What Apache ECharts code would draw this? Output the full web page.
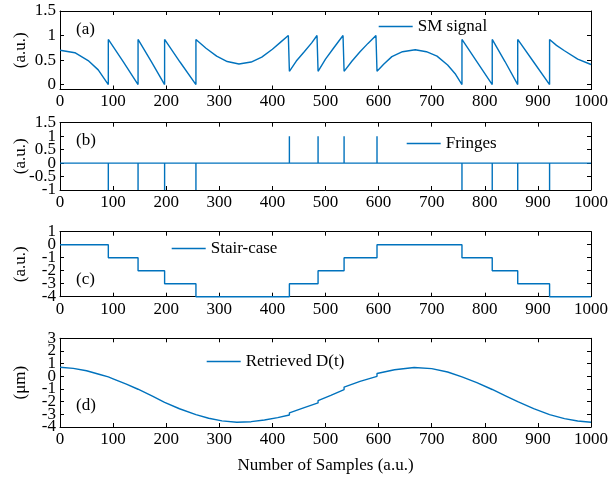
<!DOCTYPE html>
<html>
<head>
<meta charset="utf-8">
<script src="https://cdn.jsdelivr.net/npm/echarts@6/dist/echarts.min.js"></script>
<style>
  html, body { margin: 0; padding: 0; background: #fff; }
  #chart { width: 611px; height: 483px; }
</style>
</head>
<body>
<div id="chart"></div>
<script>
// (a) self-mixing signal
var smX = [0, 28, 53, 72, 91, 91, 119, 147, 147, 172, 197, 197, 226, 256, 256, 275, 295, 315, 337, 360, 380, 400, 415, 430, 432,
           445, 460, 474, 484, 486, 500, 515, 533, 535, 550, 565, 580, 595, 597, 610, 625, 645, 669, 690, 710, 730, 745, 757, 757,
           785, 814, 814, 838, 862, 862, 892, 922, 922, 935, 950, 975, 1000];
var smY = [0.70, 0.65, 0.49, 0.30, 0.00, 0.92, 0.47, 0.00, 0.92, 0.47, 0.00, 0.92, 0.46, 0.00, 0.92, 0.74, 0.58, 0.47, 0.42, 0.46, 0.56, 0.72, 0.86, 1.00, 0.27,
           0.48, 0.67, 0.85, 1.00, 0.27, 0.52, 0.74, 1.00, 0.27, 0.48, 0.67, 0.84, 1.00, 0.27, 0.42, 0.57, 0.67, 0.71, 0.67, 0.58, 0.40, 0.21, 0.00, 0.92,
           0.47, 0.00, 0.92, 0.47, 0.00, 0.92, 0.46, 0.00, 0.92, 0.80, 0.69, 0.52, 0.41];

// (b) fringe positions and their sign
var fringeX = [91, 147, 197, 256, 432, 486, 535, 597, 757, 814, 862, 922];
var fringeSign = [-1, -1, -1, -1, 1, 1, 1, 1, -1, -1, -1, -1];

// (c) stair-case
var stairX = [0, 91, 147, 197, 256, 432, 486, 535, 597, 757, 814, 862, 922, 1000];
var stairY = [0, -1, -2, -3, -4, -3, -2, -1, 0, -1, -2, -3, -4, -4];

// (d) retrieved displacement D(t), um
var dispX = [0, 25, 50, 75, 91, 100, 125, 147, 175, 197, 225, 256, 280, 305, 333, 360, 385, 410, 432, 432, 460, 486, 486, 510,
             535, 535, 565, 597, 597, 630, 667, 700, 730, 757, 785, 814, 840, 862, 892, 922, 950, 975, 1000];
var dispY = [0.72, 0.63, 0.44, 0.14, -0.05, -0.2, -0.62, -1.02, -1.58, -2.05, -2.56, -3.02, -3.31, -3.52, -3.62, -3.58, -3.45, -3.26, -3.05, -2.88, -2.47, -2.1, -1.92, -1.5,
             -1.05, -0.85, -0.4, 0.0, 0.22, 0.52, 0.70, 0.61, 0.34, -0.05, -0.5, -1.04, -1.56, -2.0, -2.55, -3.02, -3.34, -3.53, -3.62];

// y-axis ranges / ticks per panel
var yMins = [-0.1, -1, -4, -4];
var yMaxs = [1.5, 1.5, 1, 3];
var yTicks = [[0, 0.5, 1, 1.5], [-1, -0.5, 0, 0.5, 1, 1.5], [-4, -3, -2, -1, 0, 1], [-4, -3, -2, -1, 0, 1, 2, 3]];
var yNames = ['(a.u.)', '(a.u.)', '(a.u.)', '(\u03bcm)'];
var panelTags = ['(a)', '(b)', '(c)', '(d)'];
var seriesNames = ['SM signal', 'Fringes', 'Stair-case', 'Retrieved D(t)'];

function pairs(xs, ys) {
  return xs.map(function (x, i) { return [x, ys[i]]; });
}

var fringeData = [[0, 0]];
fringeX.forEach(function (x, i) {
  fringeData.push([x, 0], [x, fringeSign[i]], [x, 0]);
});
fringeData.push([1000, 0]);

var FONT = 'Liberation Serif';
var FS = 17;
var BLUE = '#0072bd';
var gridBox = [
  { top: 11, height: 78.5 },
  { top: 122.7, height: 67.3 },
  { top: 231.7, height: 65 },
  { top: 338.3, height: 88.7 }
];
var legendPos = [
  { left: 378, top: 18 },
  { left: 406, top: 135 },
  { left: 171, top: 240 },
  { left: 206, top: 353 }
];
var tagPos = [
  { left: 76, top: 21 },
  { left: 76, top: 132 },
  { left: 76, top: 271 },
  { left: 76, top: 397 }
];

var lineAx = { show: true, onZero: false, lineStyle: { color: '#000', width: 1 } };
var tick = { show: true, inside: true, length: 4, lineStyle: { color: '#000', width: 1 } };
var label = { color: '#000', fontFamily: FONT, fontSize: FS };
function plain(v) { return String(v); }

var grids = [], xAxes = [], yAxes = [];
gridBox.forEach(function (g, i) {
  grids.push({ left: 60, right: 17, top: g.top, height: g.height, containLabel: false });
  var xb = {
    type: 'value', gridIndex: i, position: 'bottom', min: 0, max: 1000, interval: 100,
    axisLine: lineAx, axisTick: tick, splitLine: { show: false },
    axisLabel: Object.assign({ margin: 4, formatter: plain, showMinLabel: true, showMaxLabel: true }, label)
  };
  if (i === 3) {
    xb.name = 'Number of Samples (a.u.)';
    xb.nameLocation = 'middle';
    xb.nameGap = 30;
    xb.nameTextStyle = label;
  }
  xAxes.push(xb);
  xAxes.push({
    type: 'value', gridIndex: i, position: 'top', min: 0, max: 1000, interval: 100,
    axisLine: lineAx, axisTick: tick, splitLine: { show: false }, axisLabel: { show: false }
  });
  // labels are split over two left axes so that tightly packed ones are all kept
  var evens = yTicks[i].filter(function (v, k) { return k % 2 === 0; });
  var odds = yTicks[i].filter(function (v, k) { return k % 2 === 1; });
  yAxes.push({
    type: 'value', gridIndex: i, position: 'left', min: yMins[i], max: yMaxs[i],
    axisLine: lineAx, splitLine: { show: false },
    axisTick: Object.assign({ customValues: yTicks[i] }, tick),
    axisLabel: Object.assign({
      margin: 4, customValues: evens, formatter: plain,
      showMinLabel: true, showMaxLabel: true
    }, label),
    name: yNames[i], nameLocation: 'middle', nameGap: 31, nameTextStyle: label
  });
  yAxes.push({
    type: 'value', gridIndex: i, position: 'left', offset: 0, min: yMins[i], max: yMaxs[i],
    axisLine: { show: false }, axisTick: { show: false }, splitLine: { show: false },
    axisLabel: Object.assign({
      margin: 4, customValues: odds, formatter: plain,
      showMinLabel: true, showMaxLabel: true
    }, label)
  });
  yAxes.push({
    type: 'value', gridIndex: i, position: 'right', min: yMins[i], max: yMaxs[i],
    axisLine: lineAx, splitLine: { show: false },
    axisTick: Object.assign({ customValues: yTicks[i] }, tick),
    axisLabel: { show: false }
  });
});

var seriesData = [pairs(smX, smY), fringeData, pairs(stairX, stairY), pairs(dispX, dispY)];
var series = seriesData.map(function (d, i) {
  var s = {
    name: seriesNames[i], type: 'line', xAxisIndex: 2 * i, yAxisIndex: 3 * i,
    data: d, symbol: 'none', clip: false,
    lineStyle: { color: BLUE, width: 1.4 }, itemStyle: { color: BLUE }
  };
  if (i === 2) s.step = 'end';
  return s;
});

var legends = legendPos.map(function (p, i) {
  return {
    data: [seriesNames[i]], left: p.left, top: p.top, padding: 0,
    itemWidth: 34, itemHeight: 14, selectedMode: false,
    itemStyle: { opacity: 0 },
    lineStyle: { color: BLUE, width: 1.4 },
    textStyle: { fontFamily: FONT, fontSize: FS, color: '#000' }
  };
});

var tags = tagPos.map(function (p, i) {
  return {
    type: 'text', left: p.left, top: p.top,
    style: { text: panelTags[i], font: FS + 'px "Liberation Serif"', fill: '#000' }
  };
});

var chart = echarts.init(document.getElementById('chart'));
chart.setOption({
  animation: false,
  backgroundColor: '#fff',
  grid: grids,
  xAxis: xAxes,
  yAxis: yAxes,
  legend: legends,
  graphic: tags,
  series: series
});
</script>
</body>
</html>
